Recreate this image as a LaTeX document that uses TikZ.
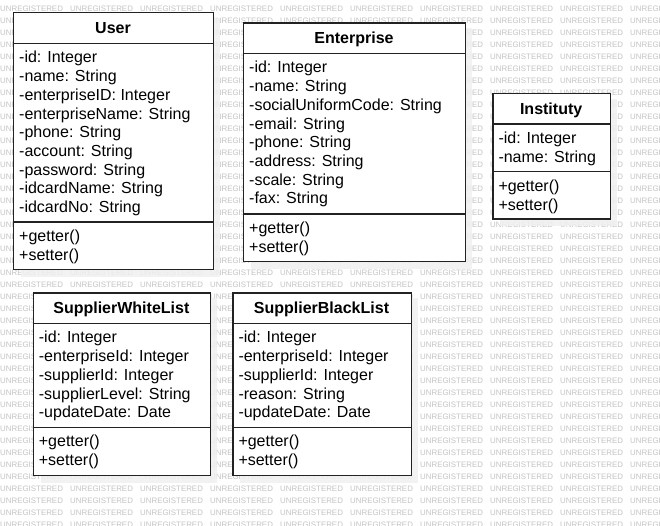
\documentclass[tikz,border=0pt]{standalone}
\usepackage{fontspec}
\setmainfont{Liberation Sans}
\definecolor{wmgray}{HTML}{C4C4C4}
\definecolor{shadowgray}{HTML}{F0F0F0}
\definecolor{edgegray}{HTML}{222222}
\tikzset{
  wmark/.style={inner sep=0pt, text=wmgray, font=\fontsize{7.9}{9}\selectfont},
  boxshadow/.style={fill=shadowgray, fill opacity=0.85},
  classbox/.style={draw=edgegray, fill=white, line width=1.3pt, inner sep=0pt},
  sepline/.style={draw=edgegray, line width=1.2pt},
  titletext/.style={inner sep=0pt, font=\fontsize{16}{19}\selectfont\bfseries},
  attrtext/.style={inner sep=0pt, font=\fontsize{16}{19}\selectfont},
}
% #1 name, #2 left, #3 top, #4 right, #5 bottom, #6 title sep, #7 method sep, #8 title, #9 attributes
\newcommand\umlbox[9]{%
  \fill[boxshadow] (#2+8,#3+6) rectangle (#4+7,#5+8);
  \node[classbox, minimum width={#4pt-#2pt}, minimum height={#5pt-#3pt}, anchor=north west] (#1) at (#2,#3) {};
  \draw[sepline] (#2,#6) -- (#4,#6);
  \draw[sepline] (#2,#7) -- (#4,#7);
  \node[titletext, anchor=base] (#1-title) at ({(#2+#4)/2},{(#3+#6)/2+5.8}) {#8};
  \foreach \a [count=\i from 0] in {#9} {
    \node[attrtext, anchor=base west] (#1-a\i) at (#2+6,{#6+19.6+18.7*\i}) {\a};
  }
  \node[attrtext, anchor=base west] (#1-m0) at (#2+6,#7+19.6) {+getter()};
  \node[attrtext, anchor=base west] (#1-m1) at (#2+6,#7+38.3) {+setter()};
}
\newcommand\inbox[4]{((\wx>=#1)*(\wx+63<=#3)*(\wy-6>=#2)*(\wy+2<=#4))}
\begin{document}
\begin{tikzpicture}[x=1pt,y=-1pt]
\useasboundingbox (0,0) rectangle (660,525);
\fill[white] (0,0) rectangle (660,525);
\begin{scope}
  \clip (0,0) rectangle (660,525);
  \foreach \r in {0,...,43} {
    \foreach \c in {0,...,9} {
      \pgfmathsetmacro\wx{70*\c}
      \pgfmathsetmacro\wy{11.4+12*\r}
      \pgfmathtruncatemacro\hidden{\inbox{13}{12}{213}{269}+\inbox{243}{22.3}{465}{260.7}+\inbox{492.3}{92.7}{610}{218.3}+\inbox{32.7}{292.3}{210}{474.7}+\inbox{232.3}{292.3}{410.7}{474.7}}
      \ifnum\hidden=0
        \node[wmark, anchor=base west] (wm-\r-\c) at (\wx,\wy) {UNREGISTERED};
      \fi
    }
  }
\end{scope}
\umlbox{user}{13}{12}{213}{269}{43.3}{222}{User}{-id: Integer,-name: String,-enterpriseID: Integer,-enterpriseName: String,-phone: String,-account: String,-password: String,-idcardName: String,-idcardNo: String}
\umlbox{enterprise}{243}{22.3}{465}{260.7}{53.3}{214}{Enterprise}{-id: Integer,-name: String,-socialUniformCode: String,-email: String,-phone: String,-address: String,-scale: String,-fax: String}
\umlbox{instituty}{492.3}{92.7}{610}{218.3}{124}{171.7}{Instituty}{-id: Integer,-name: String}
\umlbox{white}{32.7}{292.3}{210}{474.7}{323.3}{427.3}{SupplierWhiteList}{-id: Integer,-enterpriseId: Integer,-supplierId: Integer,-supplierLevel: String,-updateDate: Date}
\umlbox{black}{232.3}{292.3}{410.7}{474.7}{323.3}{427.3}{SupplierBlackList}{-id: Integer,-enterpriseId: Integer,-supplierId: Integer,-reason: String,-updateDate: Date}
\end{tikzpicture}
\end{document}
